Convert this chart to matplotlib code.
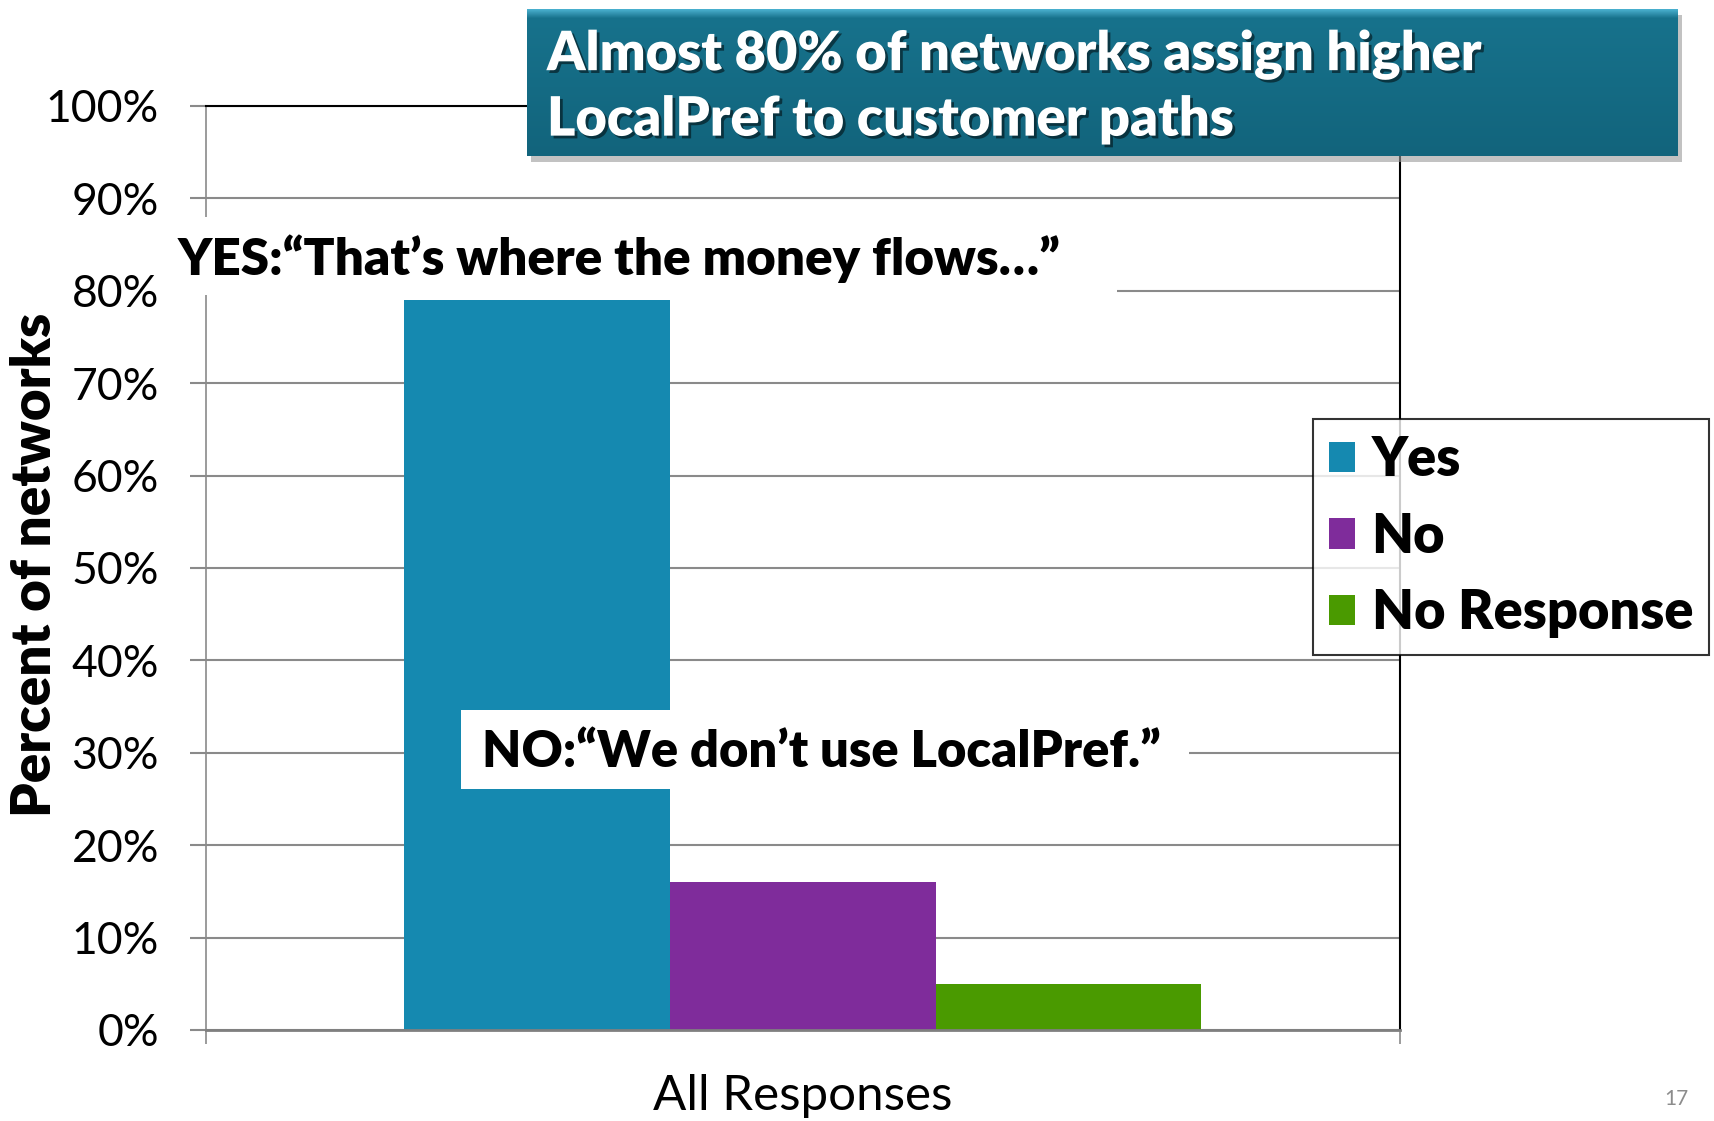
import matplotlib
matplotlib.use("Agg")
import matplotlib.pyplot as plt
import matplotlib.patheffects as pe
from matplotlib.patches import Rectangle
import numpy as np

# ---- data ----
category = ["All Responses"]
series_names = ["Yes", "No", "No Response"]
series_values = [79, 16, 5]
series_colors = ["#1589B0", "#7F2C9B", "#4A9A00"]
y_ticks = list(range(0, 101, 10))
y_tick_labels = [f"{v}%" for v in y_ticks]
title_text = "Almost 80% of networks assign higher\nLocalPref to customer paths"
yes_note = "YES:\u201cThat\u2019s where the money flows\u2026\u201d"
no_note = "NO:\u201cWe don\u2019t use LocalPref.\u201d"
y_label = "Percent of networks"
page_number = "17"

W, H = 1714, 1121
plt.rcParams['font.family'] = ['Lato', 'DejaVu Sans']
HEAVY = "heavy"

fig = plt.figure(figsize=(W / 100, H / 100), dpi=100)
fig.patch.set_facecolor("white")

def fx(px):
    return px / W

def fy(py):
    return 1 - py / H

ax_left, ax_right, ax_top, ax_bottom = 205.5, 1400, 106, 1030
ax = fig.add_axes([fx(ax_left), fy(ax_bottom), fx(ax_right - ax_left), (ax_bottom - ax_top) / H])

group_width = 0.667
bw = group_width / len(series_names)
for i, (name, val, col) in enumerate(zip(series_names, series_values, series_colors)):
    ax.bar(0 + (i - 1) * bw, val, width=bw, color=col, label=name, zorder=2)

ax.set_xlim(-0.5, 0.5)
ax.set_ylim(0, 100)
ax.set_axisbelow(True)
ax.set_yticks(y_ticks)
ax.set_yticklabels(y_tick_labels)
ax.yaxis.grid(True, color="#8a8a8a", linewidth=1.5)
ax.tick_params(axis="y", length=11.5, width=1.5, color="#8a8a8a", pad=22, labelsize=32)
ax.set_xticks([0])
ax.set_xticklabels(category)
ax.tick_params(axis="x", which="major", length=0, pad=32, labelsize=35.5)
ax.set_xticks([-0.5, 0.5], minor=True)
ax.tick_params(axis="x", which="minor", length=10, width=1.2, color="#8a8a8a")

ax.spines["top"].set_color("black")
ax.spines["top"].set_linewidth(1.5)
ax.spines["right"].set_color("black")
ax.spines["right"].set_linewidth(1.5)
ax.spines["left"].set_color("#8a8a8a")
ax.spines["left"].set_linewidth(1.2)
ax.spines["bottom"].set_color("#7f7f7f")
ax.spines["bottom"].set_linewidth(2)

# y label
fig.text(fx(35), fy(565), y_label, rotation=90, ha="center", va="center",
         fontsize=39.3, fontweight=HEAVY)

# legend
leg = ax.legend(loc="upper left", bbox_to_anchor=(fx(1313), fy(419)),
                bbox_transform=fig.transFigure, borderaxespad=0,
                prop={"size": 39, "weight": HEAVY}, frameon=True, fancybox=False,
                edgecolor="black", handlelength=0.48, handleheight=0.48,
                handletextpad=0.3, labelspacing=0.49, borderpad=0.3)
leg.get_frame().set_linewidth(1.5)
leg.set_zorder(10)

# white note boxes
fig.patches.append(Rectangle((fx(165), fy(295)), fx(1117 - 165), (295 - 217) / H,
                             transform=fig.transFigure, facecolor="white",
                             edgecolor="none", zorder=5))
fig.text(fx(178), fy(259), yes_note, ha="left", va="center", fontsize=36.9,
         fontweight=HEAVY, zorder=6)
fig.patches.append(Rectangle((fx(461), fy(789)), fx(1189 - 461), (789 - 710) / H,
                             transform=fig.transFigure, facecolor="white",
                             edgecolor="none", zorder=5))
fig.text(fx(482), fy(752), no_note, ha="left", va="center", fontsize=36.5,
         fontweight=HEAVY, zorder=6)

# title box with shadow
tb_l, tb_r, tb_t, tb_b = 527, 1678, 9, 156
fig.patches.append(Rectangle((fx(tb_l + 4), fy(tb_b + 6)), fx(tb_r - tb_l), (tb_b - tb_t) / H,
                             transform=fig.transFigure, facecolor="#9a9a9a",
                             edgecolor="none", alpha=0.6, zorder=7))
tax = fig.add_axes([fx(tb_l), fy(tb_b), fx(tb_r - tb_l), (tb_b - tb_t) / H], zorder=8)
tax.set_axis_off()
n = 200
top_c = np.array([0x4a, 0xb0, 0xcf]) / 255
mid_c = np.array([0x17, 0x72, 0x8c]) / 255
bot_c = np.array([0x12, 0x64, 0x7c]) / 255
t = np.linspace(0, 1, n)
grad = np.zeros((n, 1, 3))
for k, tv in enumerate(t):
    if tv < 0.06:
        c = top_c + (mid_c - top_c) * (tv / 0.06)
    else:
        c = mid_c + (bot_c - mid_c) * ((tv - 0.06) / 0.94)
    grad[k, 0] = c
tax.imshow(grad, aspect="auto", extent=[0, 1, 0, 1], origin="upper")
tax.set_xlim(0, 1)
tax.set_ylim(0, 1)
tax.text(fx(547 - tb_l) / fx(tb_r - tb_l), 0.47, title_text, transform=tax.transAxes,
         ha="left", va="center", fontsize=39, fontweight=HEAVY, color="white",
         linespacing=1.32,
         path_effects=[pe.withSimplePatchShadow(offset=(2, -2), shadow_rgbFace="black", alpha=0.5)])

# page number
fig.text(fx(1676), fy(1099), page_number, ha="center", va="center", fontsize=15, color="#8c8c8c")

fig.savefig("out.png", dpi=100)
